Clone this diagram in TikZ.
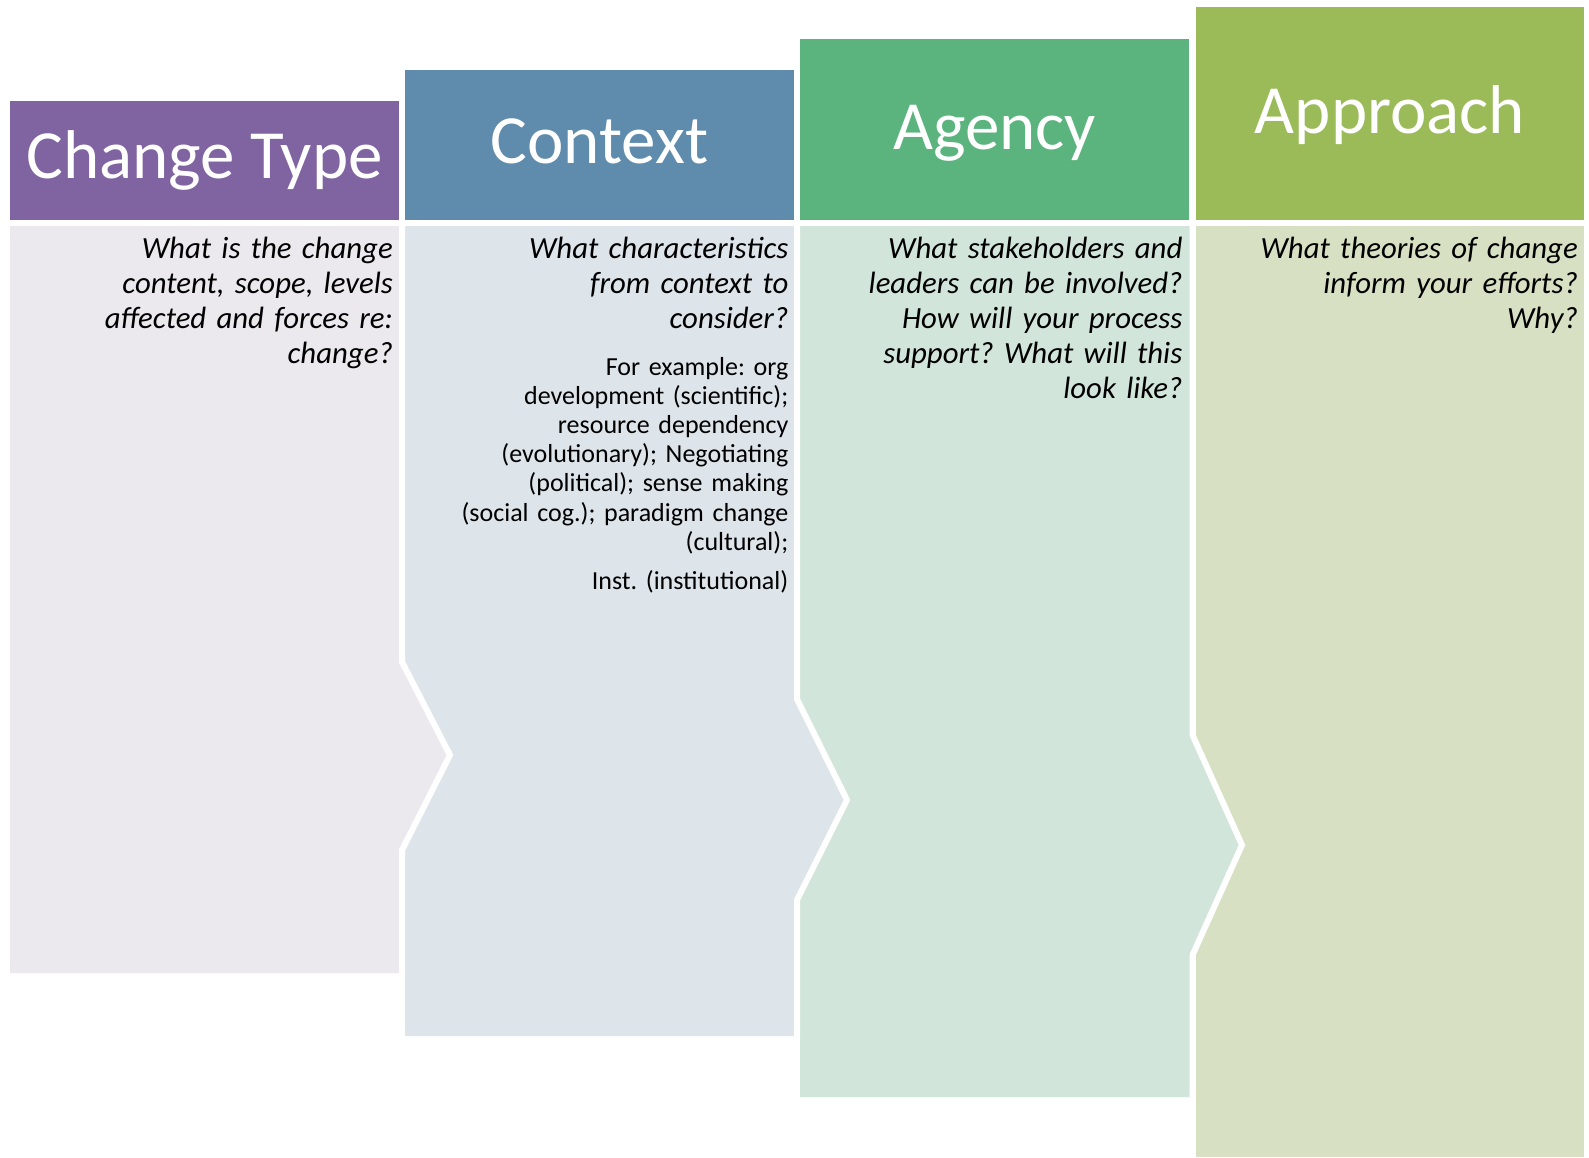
\documentclass[tikz,border=0pt]{standalone}
\usepackage{fontspec}
\setmainfont{Carlito}
\frenchspacing
\definecolor{hdrA}{HTML}{8064A2}
\definecolor{hdrB}{HTML}{5F8CAD}
\definecolor{hdrC}{HTML}{5BB37E}
\definecolor{hdrD}{HTML}{9BBB59}
\definecolor{bodA}{HTML}{EBE9EE}
\definecolor{bodB}{HTML}{DDE4EA}
\definecolor{bodC}{HTML}{D1E5DA}
\definecolor{bodD}{HTML}{D7E0C3}
\tikzset{
  hdrtext/.style={anchor=base, inner sep=0pt, text=white, font=\fontsize{69}{80}\selectfont},
  question/.style={anchor=base east, inner sep=0pt, text width=380pt, align=right, font=\fontsize{30.8}{35}\selectfont\itshape\frenchspacing},
  example/.style={anchor=base east, inner sep=0pt, text width=380pt, align=right, font=\fontsize{26}{29.2}\selectfont\frenchspacing},
  gapline/.style={draw=white, line width=6pt, line join=miter}
}
\begin{document}
\begin{tikzpicture}[x=1pt, y=-1pt]
\useasboundingbox (0,0) rectangle (1589,1157);
\fill[white] (0,0) rectangle (1589,1157);
% column 4 body
\fill[bodD] (1196,226) rectangle (1584,1157);
% column 3 body with chevron
\fill[bodC] (800,226) -- (1192.5,226) -- (1192.5,735) -- (1242,845) -- (1192.5,955) -- (1192.5,1097) -- (800,1097) -- cycle;
\draw[gapline] (1192.5,226) -- (1192.5,735) -- (1242,845) -- (1192.5,955) -- (1192.5,1097);
% column 2 body with chevron
\fill[bodB] (405,226) -- (797,226) -- (797,699) -- (847,800) -- (797,900) -- (797,1036) -- (405,1036) -- cycle;
\draw[gapline] (797,226) -- (797,699) -- (847,800) -- (797,900) -- (797,1036);
% column 1 body with chevron
\fill[bodA] (10,226) -- (402,226) -- (402,662) -- (450,755) -- (402,850) -- (402,973) -- (10,973) -- cycle;
\draw[gapline] (402,226) -- (402,662) -- (450,755) -- (402,850) -- (402,973);
% headers
\fill[hdrA] (10,101) rectangle (399,220);
\fill[hdrB] (405,70) rectangle (794,220);
\fill[hdrC] (800,38.5) rectangle (1189,220);
\fill[hdrD] (1196,7) rectangle (1584,220);
\node[hdrtext] (hA) at (204.5,178) {Change Type};
\node[hdrtext] (hB) at (599.5,163.3) {Context};
\node[hdrtext] (hC) at (994.5,149) {Agency};
\node[hdrtext] (hD) at (1390,133) {Approach};
% questions
\node[question] (qA) at (393,258) {What is the change\\content, scope, levels\\affected and forces re:\\change?};
\node[question] (qB) at (788.5,258) {What characteristics\\from context to\\consider?};
\node[question] (qC) at (1182.6,258) {What stakeholders and\\leaders can be involved?\\How will your process\\support? What will this\\look like?};
\node[question] (qD) at (1578,258) {What theories of change\\inform your efforts?\\Why?};
% example
\node[example] (eB) at (788.5,375) {For example: org\\development (scientific);\\resource dependency\\(evolutionary); Negotiating\\(political); sense making\\(social cog.); paradigm change\\(cultural);\\[9.8pt]Inst. (institutional)};
\end{tikzpicture}
\end{document}
